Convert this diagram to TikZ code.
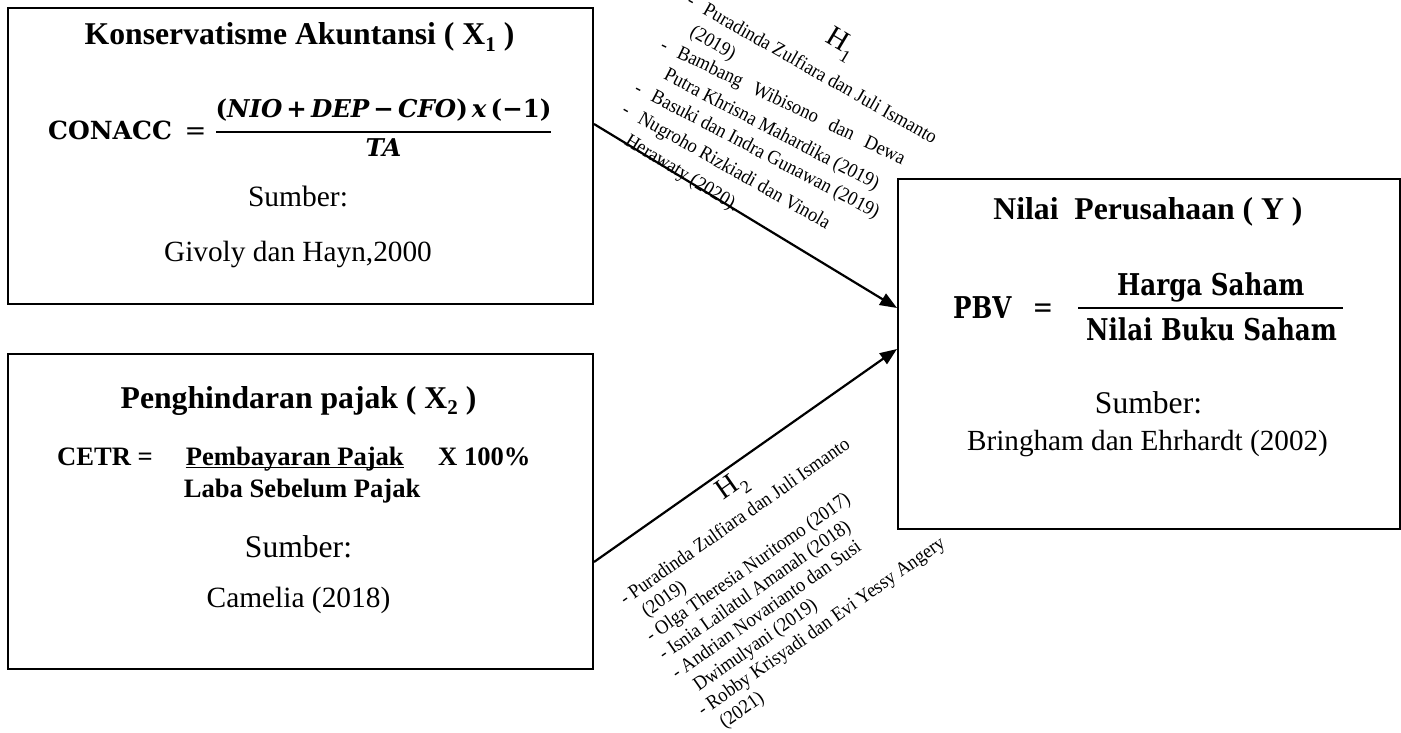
\documentclass[tikz,border=0pt]{standalone}
\usepackage{fontspec}
\setmainfont{Liberation Serif}
\newfontfamily\camA{DejaVu Serif}
\newfontfamily\camB{DejaVu Serif}[FakeStretch=0.82]
\newfontfamily\refont{Liberation Serif}[FakeStretch=0.93]
\usetikzlibrary{arrows.meta,calc}
\newcommand\fsz[1]{\fontsize{#1}{#1}\selectfont}
\newcommand\subd[1]{\raisebox{-0.2em}{\fsz{21}#1}}
\newcommand\hsub[1]{\raisebox{-0.28em}{\fsz{18}#1}}
\newcommand\upc[1]{{\upshape #1}}
\newcommand\dsh{\llap{\makebox[18.5pt][l]{-}}}
\begin{document}
\begin{tikzpicture}[x=1pt,y=1pt,
  box/.style={draw, line width=2pt, inner sep=0pt, anchor=north west},
  txt/.style={inner sep=0pt, anchor=base},
  txw/.style={inner sep=0pt, anchor=base west},
  arr/.style={line width=2.2pt, -{Triangle[length=17pt,width=13pt]}},
  ref/.style={inner sep=0pt, anchor=base west, font=\refont\fsz{19.8}},
  hlab/.style={inner sep=0pt, font=\fsz{29}}
]
\useasboundingbox (0,0) rectangle (1401,-733);

% boxes
\node[box, minimum width=585pt, minimum height=296pt] (x1) at (7,-7) {};
\node[box, minimum width=585pt, minimum height=315pt] (x2) at (7,-353) {};
\node[box, minimum width=502pt, minimum height=350pt] (y) at (897,-178) {};

% X1 contents
\node[txt] (t1) at (299.5,-45) {\fsz{31.7}\bfseries Konservatisme Akuntansi ( X\subd{1} )};
\node[txw] (conacc) at (48,-140) {\camA\bfseries\fsz{25}CONACC};
\node[txt] (eq1) at (195.5,-140) {\camA\fsz{26}=};
\node[txt] (num1) at (383.5,-118) {\camA\bfseries\itshape\fsz{24.5}\upc{(}NIO\,\upc{+}\,DEP\,\upc{−}\,CFO\upc{)}\,x\,\upc{(−1)}};
\node[txt] (den1) at (383.5,-157) {\camA\bfseries\itshape\fsz{24.5}TA};
\coordinate (b1l) at (216,-132);
\coordinate (b1r) at (551,-132);
\draw[line width=1.8pt] (b1l) -- (b1r);
\node[txt] (s1) at (298,-207) {\fsz{29.5}Sumber:};
\node[txt] (g1) at (298,-261) {\fsz{29.3}Givoly dan Hayn,2000};

% X2 contents
\node[txt] (t2) at (298.5,-408) {\fsz{31.7}\bfseries Penghindaran pajak ( X\subd{2} )};
\node[txw] (cetr) at (57,-465) {\fsz{26.6}\bfseries CETR =};
\node[txw] (pemb) at (185.6,-465) {\fsz{26.6}\bfseries Pembayaran Pajak};
\draw[line width=1.8pt] ($(pemb.base west)+(0,-2.5)$) -- ($(pemb.base east)+(0,-2.5)$);
\node[txw] (x100) at (438,-465) {\fsz{26.6}\bfseries X 100\%};
\node[txw] (laba) at (183.7,-497) {\fsz{26.6}\bfseries Laba Sebelum Pajak};
\node[txt] (s2) at (298.5,-557) {\fsz{31.6}Sumber:};
\node[txt] (c2) at (298.5,-607) {\fsz{29.4}Camelia (2018)};

% Y contents
\node[txt] (t3) at (1148,-219) {\fsz{31.7}\bfseries Nilai\ \ Perusahaan ( Y )};
\node[txw] (pbv) at (953,-318) {\camB\bfseries\fsz{30}PBV};
\node[txt] (eq3) at (1043,-317) {\camB\fsz{30}=};
\coordinate (b3l) at (1078,-308);
\coordinate (b3r) at (1343,-308);
\draw[line width=2.2pt] (b3l) -- (b3r);
\node[txt] (num3) at (1210.8,-295) {\camB\bfseries\fsz{30}Harga Saham};
\node[txt] (den3) at (1211.5,-340) {\camB\bfseries\fsz{30}Nilai Buku Saham};
\node[txt] (s3) at (1148.5,-413) {\fsz{31.6}Sumber:};
\node[txt] (br3) at (1147.5,-450) {\fsz{29.2}Bringham dan Ehrhardt (2002)};

% connectors
\coordinate (a1s) at ($(x1.north east)+(0,-117)$);
\coordinate (a1e) at ($(y.north west)+(0,-130)$);
\coordinate (a2s) at ($(x2.north east)+(0,-209)$);
\coordinate (a2e) at ($(y.north west)+(0,-171)$);
\draw[arr] (a1s) -- (a1e);
\draw[arr] (a2s) -- (a2e);

% H1 label and references
\node[hlab, rotate=-31] (h1) at (840,-45) {H\hsub{1}};
\node[ref, rotate=-29.5] (r11) at (701.8,-13.8) {\dsh Puradinda Zulfiara dan Juli Ismanto};
\node[ref, rotate=-30]   (r12) at (688.8,-35.5) {(2019)};
\node[ref, rotate=-25.5] (r13) at (675.8,-57.1) {\dsh\makebox[250pt][s]{Bambang Wibisono dan Dewa}};
\node[ref, rotate=-27.6] (r14) at (662.7,-78.8) {Putra Khrisna Mahardika (2019)};
\node[ref, rotate=-27.6] (r15) at (649.7,-100.5) {\dsh Basuki dan Indra Gunawan (2019)};
\node[ref, rotate=-29.5] (r16) at (636.7,-122.2) {\dsh Nugroho Rizkiadi dan Vinola};
\node[ref, rotate=-31.5] (r17) at (623.6,-143.9) {Herawaty (2020).};

% H2 label and references
\node[hlab, rotate=35] (h2) at (733,-487) {H\hsub{2}};
\begin{scope}[shift={(625,-600)}, rotate=35, transform shape]
  \node[ref] (r21) at (-3,-4.6)   {- Puradinda Zulfiara dan Juli Ismanto};
  \node[ref] (r22) at (-3,-27.2)  {\hphantom{- }(2019)};
  \node[ref] (r23) at (-3,-49.8)  {- Olga Theresia Nuritomo (2017)};
  \node[ref] (r24) at (-3,-72.4)  {- Isnia Lailatul Amanah (2018)};
  \node[ref] (r25) at (-3,-95.0)  {- Andrian Novarianto dan Susi};
  \node[ref] (r26) at (-3,-117.6) {\hphantom{- }Dwimulyani (2019)};
  \node[ref] (r27) at (-3,-140.2) {- Robby Krisyadi dan Evi Yessy Angery};
  \node[ref] (r28) at (-3,-162.8) {\hphantom{- }(2021)};
\end{scope}
\end{tikzpicture}
\end{document}
